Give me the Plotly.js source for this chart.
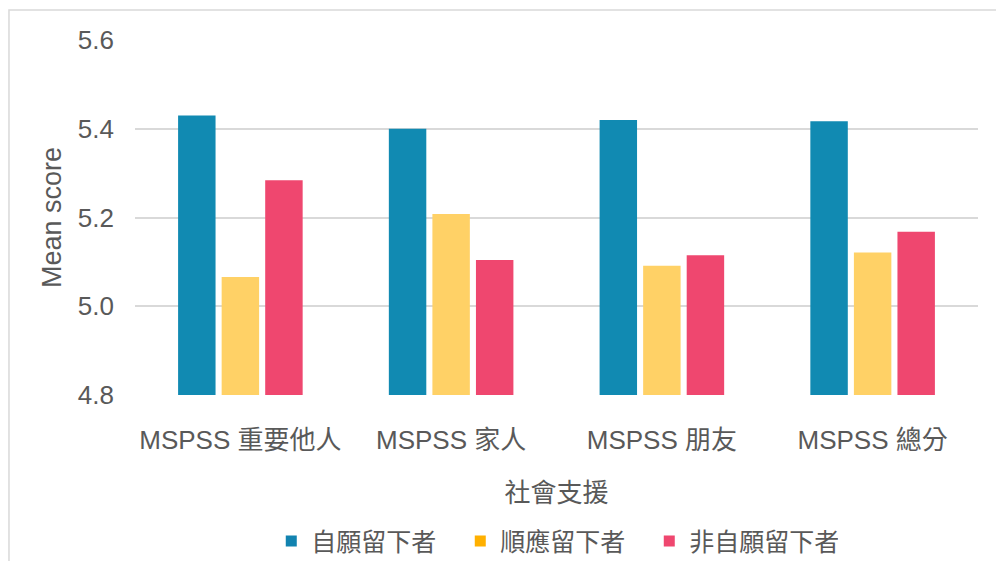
<!DOCTYPE html>
<html>
<head>
<meta charset="utf-8">
<script src="https://cdn.plot.ly/plotly-3.0.1.min.js"></script>
<style>html,body{margin:0;padding:0;background:#fff;}#chart{width:996px;height:561px;}</style>
</head>
<body>
<div id="chart"></div>
<script>
const categories = ["MSPSS 重要他人", "MSPSS 家人", "MSPSS 朋友", "MSPSS 總分"];
const seriesNames = ["自願留下者", "順應留下者", "非自願留下者"];
const voluntary = [5.430, 5.400, 5.420, 5.417];
const compliant = [5.066, 5.208, 5.091, 5.121];
const involuntary = [5.284, 5.104, 5.115, 5.168];
const yTicks = [4.8, 5.0, 5.2, 5.4, 5.6];
const yTickLabels = ["4.8", "5.0", "5.2", "5.4", "5.6"];

const barColors = ["#118AB2", "#FFD166", "#EF476F"];
const legendColors = ["#1283B0", "#FFB000", "#EF476F"];
const seriesValues = [voluntary, compliant, involuntary];

const FONT = "'Liberation Sans', Arial, 'Noto Sans CJK TC', sans-serif";
const TXT = "#595959";

const traces = [];
seriesValues.forEach((vals, i) => {
  traces.push({
    type: "bar", x: categories, y: vals, name: seriesNames[i],
    marker: {color: barColors[i]}, showlegend: false, hoverinfo: "x+y"
  });
});
seriesValues.forEach((vals, i) => {
  traces.push({
    type: "scatter", mode: "markers", x: [null], y: [null], name: seriesNames[i],
    marker: {color: legendColors[i], symbol: "square", size: 11}, showlegend: true
  });
});

const layout = {
  width: 996, height: 561,
  margin: {l: 135, r: 18, t: 40, b: 166},
  paper_bgcolor: "#ffffff", plot_bgcolor: "#ffffff",
  font: {family: FONT, color: TXT, size: 26},
  barmode: "group", bargap: 0.38, bargroupgap: 0.14,
  xaxis: {
    type: "category", automargin: false,
    title: {text: "社會支援", font: {size: 26, color: TXT}, standoff: 29},
    tickfont: {size: 26, color: TXT},
    showgrid: false, zeroline: false, showline: false, ticks: "",
    ticklabelstandoff: 27
  },
  yaxis: {
    automargin: false,
    title: {text: "Mean score", font: {size: 27, color: TXT}, standoff: 8},
    range: [4.8, 5.6], tickvals: yTicks, ticktext: yTickLabels,
    tickfont: {size: 26, color: TXT},
    showgrid: true, gridcolor: "#d9d9d9", gridwidth: 2,
    zeroline: false, showline: false, ticks: "", ticklabelstandoff: 20
  },
  showlegend: true,
  legend: {
    orientation: "h", xref: "container", yref: "container",
    x: 0.557, xanchor: "center", y: 0.035, yanchor: "middle",
    font: {size: 25, color: TXT}, entrywidth: 144, entrywidthmode: "pixels",
    traceorder: "normal"
  },
  shapes: [{
    type: "rect", xref: "paper", yref: "paper",
    x0: -0.1495, x1: 1.1, y0: -0.6, y1: 1.0845,
    line: {color: "#d9d9d9", width: 1.5}, fillcolor: "rgba(0,0,0,0)", layer: "below"
  }]
};

Plotly.newPlot("chart", traces, layout, {staticPlot: true, displayModeBar: false});
</script>
</body>
</html>
